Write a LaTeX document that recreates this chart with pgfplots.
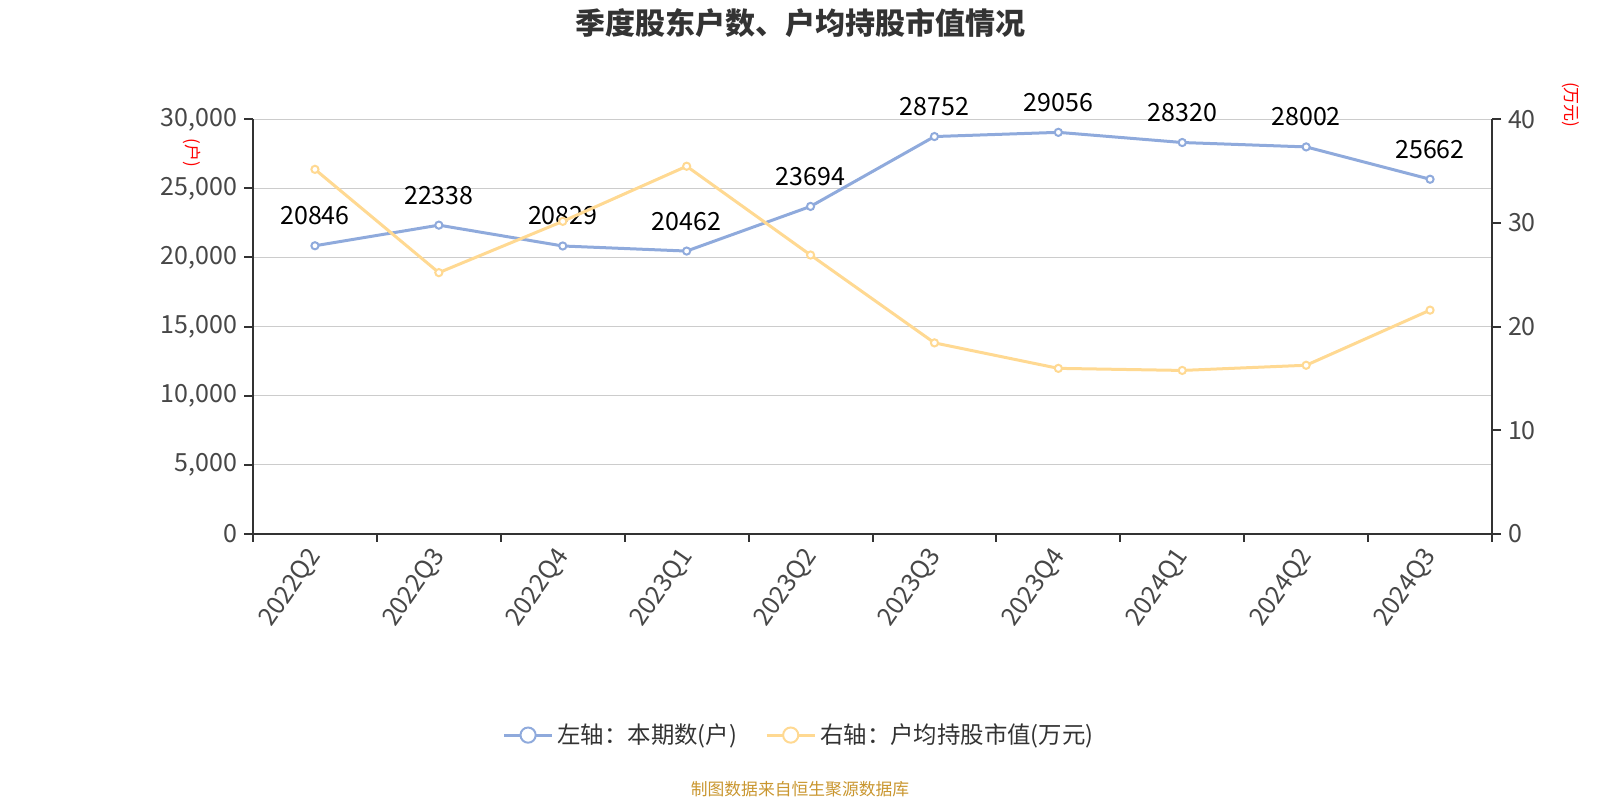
\documentclass[border=0pt]{standalone}
\usepackage{fontspec}
\setmainfont{Noto Sans CJK SC}
\usepackage{pgfplots}
\pgfplotsset{compat=1.18}
\definecolor{bl}{HTML}{8FAADC}
\definecolor{yl}{HTML}{FFD992}
\definecolor{axc}{HTML}{333333}
\definecolor{grd}{HTML}{CCCCCC}
\definecolor{foot}{HTML}{C9962F}

\begin{document}
\begin{tikzpicture}
\path[use as bounding box] (0pt,0pt) rectangle (800pt,400pt);
\pgfplotsset{common/.style={
  scale only axis, width=619.5pt, height=207.2pt,
  at={(126.5pt,133.15pt)}, anchor=south west,
  xmin=-0.5, xmax=9.5,
  /pgf/number format/assume math mode=true,
  /pgf/number format/1000 sep={,},
  scaled ticks=false,
  tick label style={font=\fontsize{12.5}{14}\selectfont, text=axc!90},
  axis line style={axc, line width=1pt},
  tick style={axc, line width=1pt},
  tick align=outside, major tick length=4.5pt, minor tick length=4pt,
}}
\begin{axis}[common,
  axis x line*=bottom, axis y line*=left,
  ymin=0, ymax=30000, ytick={0,5000,...,30000},
  ymajorgrids, grid style={grd, line width=0.7pt},
  xtick={0,...,9},
  xticklabels={2022Q2,2022Q3,2022Q4,2023Q1,2023Q2,2023Q3,2023Q4,2024Q1,2024Q2,2024Q3},
  major x tick style={draw=none},
  minor xtick={-0.5,0.5,...,9.5},
  x tick label style={rotate=55, anchor=east, yshift=-3pt},
  legend style={at={(0.4415,-0.486)}, anchor=center, draw=none, fill=none,
    legend columns=2, font=\fontsize{11.7}{13}\selectfont, text=axc,
    /tikz/every even column/.append style={column sep=12pt}},
  legend image code/.code={
    \draw[#1, mark=none] (0pt,0pt) -- (24pt,0pt);
    \draw[#1, mark=none, fill=white, line width=1pt] (12pt,0pt) circle (3.8pt);
  },
]
\addplot[bl, line width=1.5pt, mark=*, mark size=1.8pt,
  mark options={fill=white, draw=bl, line width=1pt},
  point meta=explicit symbolic, nodes near coords,
  every node near coord/.append style={font=\fontsize{12.5}{14}\selectfont, text=black, anchor=south, yshift=6.5pt}]
coordinates {
(0,20846)[20846] (1,22338)[22338] (2,20829)[20829] (3,20462)[20462] (4,23694)[23694]
(5,28752)[28752] (6,29056)[29056] (7,28320)[28320] (8,28002)[28002] (9,25662)[25662]};
\addlegendentry{左轴：本期数(户)}
\addlegendimage{yl, line width=1.5pt}
\addlegendentry{右轴：户均持股市值(万元)}
\end{axis}
\begin{axis}[common,
  axis x line=none, axis y line*=right,
  ymin=0, ymax=40, ytick={0,10,...,40},
]
\addplot[yl, line width=1.5pt, mark=*, mark size=1.8pt,
  mark options={fill=white, draw=yl, line width=1pt}]
coordinates {
(0,35.17) (1,25.2) (2,30.15) (3,35.47) (4,26.9)
(5,18.42) (6,15.96) (7,15.76) (8,16.26) (9,21.58)};
\end{axis}
\node[font=\fontsize{15}{17}\selectfont\bfseries, text=axc] at (400pt,388.5pt) {季度股东户数、户均持股市值情况};
\node[rotate=-90, text=red, font=\fontsize{8.5}{9}\selectfont] at (96pt,323.5pt) {(户)};
\node[rotate=-90, text=red, font=\fontsize{8.5}{9}\selectfont] at (785.5pt,347.5pt) {(万元)};
\node[text=foot, font=\fontsize{8.4}{10}\selectfont] at (400pt,5.5pt) {制图数据来自恒生聚源数据库};
\end{tikzpicture}
\end{document}
